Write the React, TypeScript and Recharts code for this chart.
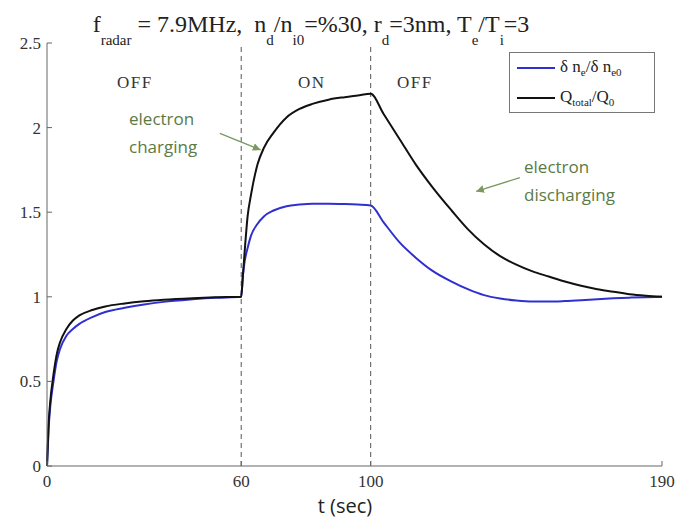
import {
  LineChart,
  Line,
  XAxis,
  YAxis,
  ReferenceLine,
  Legend,
} from 'recharts';

const tSec = [
  0, 0.5, 1, 2, 3, 4, 6, 8, 10, 14, 18, 24, 30, 36, 45, 52, 60,
  60.5, 61, 62, 63, 65, 67, 70, 74, 78, 82, 87, 92, 96, 100,
  104, 109, 114, 119, 125, 130, 135, 140, 145, 150, 155, 160, 165, 170, 175, 180, 185, 190,
];

// delta n_e / delta n_e0
const neRatio = [
  0, 0.22, 0.35, 0.5, 0.62, 0.69, 0.77, 0.81, 0.84, 0.88, 0.91, 0.935, 0.955, 0.97, 0.985, 0.994, 1.0,
  1.12, 1.2, 1.29, 1.36, 1.43, 1.475, 1.51, 1.535, 1.545, 1.55, 1.55, 1.548, 1.545, 1.54,
  1.44, 1.32, 1.23, 1.155, 1.09, 1.045, 1.01, 0.99, 0.978, 0.972, 0.972, 0.975, 0.98, 0.986, 0.991, 0.995, 0.998, 1.0,
];

// Q_total / Q_0
const qRatio = [
  0, 0.25, 0.38, 0.54, 0.66, 0.73, 0.81, 0.86, 0.89, 0.922, 0.943, 0.961, 0.974, 0.983, 0.992, 0.997, 1.0,
  1.12, 1.25, 1.48, 1.6, 1.78, 1.88, 1.97, 2.06, 2.11, 2.14, 2.165, 2.18, 2.19, 2.2,
  2.08, 1.93, 1.78, 1.65, 1.51, 1.4, 1.31, 1.24, 1.19, 1.15, 1.12, 1.09, 1.065, 1.045, 1.03, 1.015, 1.006, 1.0,
];

const xTicks = [0, 60, 100, 190];
const yTicks = [0, 0.5, 1, 1.5, 2, 2.5];
const switchTimes = [60, 100];

const chartData = tSec.map((t, i) => ({ t, ne: neRatio[i], q: qRatio[i] }));

const W = 681;
const H = 518;
const M = { top: 43, right: 19, bottom: 0, left: 0 };
const PLOT_BOTTOM = 466;
const PLOT_LEFT = 47;
const AXIS = '#666';
const SERIF = '"Liberation Serif", "Times New Roman", serif';
const SANS = '"Open Sans", "Liberation Sans", sans-serif';
const GREEN = '#5b7a45';
const BLUE = '#3030d0';

const BottomTick = ({ x, payload }: any) => (
  <g>
    <line x1={x} x2={x} y1={PLOT_BOTTOM} y2={PLOT_BOTTOM - 5} stroke={AXIS} />
    <text
      x={x}
      y={PLOT_BOTTOM + 21}
      textAnchor="middle"
      style={{ fontFamily: SERIF, fontSize: 17 }}
      fill="#333"
    >
      {payload.value}
    </text>
  </g>
);

const TopTick = ({ x, y }: any) => (
  <line x1={x} x2={x} y1={y} y2={y + 5} stroke={AXIS} />
);

const LeftTick = ({ y, payload }: any) => (
  <g>
    <line x1={PLOT_LEFT} x2={PLOT_LEFT + 5} y1={y} y2={y} stroke={AXIS} />
    <text
      x={PLOT_LEFT - 6}
      y={y}
      dy="0.35em"
      textAnchor="end"
      style={{ fontFamily: SERIF, fontSize: 17 }}
      fill="#333"
    >
      {payload.value}
    </text>
  </g>
);

const RightTick = ({ x, y }: any) => (
  <line x1={x} x2={x - 5} y1={y} y2={y} stroke={AXIS} />
);

const Arrow = (props: any) => (
  <line
    x1={props.x1}
    y1={props.y1}
    x2={props.x2}
    y2={props.y2}
    stroke="#7a9a60"
    strokeWidth={1.3}
    markerEnd="url(#greenHead)"
  />
);

const LegendBox = () => (
  <div
    style={{
      width: 144,
      height: 59,
      border: '1px solid #777',
      background: '#fff',
      fontFamily: SERIF,
      fontSize: 17,
      color: '#222',
    }}
  >
    <div style={{ display: 'flex', alignItems: 'center', height: 30, paddingLeft: 7 }}>
      <span style={{ width: 38, height: 2, background: BLUE, marginRight: 5 }} />
      <span>
        δ n<sub style={{ fontSize: 11 }}>e</sub>/δ n<sub style={{ fontSize: 11 }}>e0</sub>
      </span>
    </div>
    <div style={{ display: 'flex', alignItems: 'center', height: 30, paddingLeft: 7 }}>
      <span style={{ width: 38, height: 2, background: '#111', marginRight: 5 }} />
      <span>
        Q<sub style={{ fontSize: 11 }}>total</sub>/Q<sub style={{ fontSize: 11 }}>0</sub>
      </span>
    </div>
  </div>
);

const abs = (left: number, top: number, extra: any = {}) => ({
  position: 'absolute' as const,
  left,
  top,
  whiteSpace: 'nowrap' as const,
  lineHeight: 1,
  ...extra,
});

export default function App() {
  const sub = { fontSize: 15, verticalAlign: -13, lineHeight: 1 };
  return (
    <div style={{ position: 'absolute', left: 0, top: 0, width: W, height: H, background: '#fff' }}>
      <LineChart width={W} height={H} data={chartData} margin={M}>
        <defs>
          <marker id="greenHead" markerWidth="8" markerHeight="8" refX="6" refY="3" orient="auto">
            <path d="M0,0 L6,3 L0,6 z" fill="#7a9a60" />
          </marker>
        </defs>
        <XAxis
          dataKey="t"
          type="number"
          domain={[0, 190]}
          ticks={xTicks}
          height={52}
          tickSize={0}
          tickMargin={0}
          tickLine={false}
          tick={<BottomTick />}
          axisLine={{ stroke: AXIS }}
        />
        <XAxis
          xAxisId="top"
          orientation="top"
          dataKey="t"
          type="number"
          domain={[0, 190]}
          ticks={xTicks}
          height={0}
          tickSize={0}
          tickMargin={0}
          tickLine={false}
          tick={<TopTick />}
          axisLine={{ stroke: AXIS }}
        />
        <YAxis
          type="number"
          domain={[0, 2.5]}
          ticks={yTicks}
          width={47}
          tickSize={0}
          tickMargin={0}
          tickLine={false}
          tick={<LeftTick />}
          axisLine={{ stroke: AXIS }}
        />
        <YAxis
          yAxisId="right"
          orientation="right"
          type="number"
          domain={[0, 2.5]}
          ticks={yTicks}
          width={0}
          tickSize={0}
          tickMargin={0}
          tickLine={false}
          tick={<RightTick />}
          axisLine={{ stroke: AXIS }}
        />
        {switchTimes.map((s) => (
          <ReferenceLine key={s} x={s} stroke="#555" strokeDasharray="5 4" strokeWidth={1} />
        ))}
        <ReferenceLine
          segment={[{ x: 53.4, y: 1.966 }, { x: 66, y: 1.868 }]}
          shape={<Arrow />}
        />
        <ReferenceLine
          segment={[{ x: 146.1, y: 1.704 }, { x: 132.6, y: 1.623 }]}
          shape={<Arrow />}
        />
        <Line
          type="monotone"
          dataKey="ne"
          stroke={BLUE}
          strokeWidth={2}
          dot={false}
          isAnimationActive={false}
        />
        <Line
          type="monotone"
          dataKey="q"
          stroke="#111"
          strokeWidth={2}
          dot={false}
          isAnimationActive={false}
        />
        <Legend
          layout="vertical"
          align="center"
          verticalAlign="middle"
          content={<LegendBox />}
          wrapperStyle={{ left: 509, top: 52, width: 146, height: 61 }}
        />
      </LineChart>

      <div style={abs(0, 12, { width: 622, textAlign: 'center', fontFamily: SERIF, fontSize: 24, color: '#222' })}>
        f<span style={sub}>radar</span> = 7.9MHz,&nbsp; n<span style={sub}>d</span>/n<span style={sub}>i0</span>
        =%30, r<span style={sub}>d</span>=3nm, T<span style={sub}>e</span>/T<span style={sub}>i</span>=3
      </div>

      <div style={abs(117, 74, { fontFamily: SERIF, fontSize: 17, letterSpacing: 1.5, color: '#333' })}>OFF</div>
      <div style={abs(298, 74, { fontFamily: SERIF, fontSize: 17, letterSpacing: 1.5, color: '#333' })}>ON</div>
      <div style={abs(397, 74, { fontFamily: SERIF, fontSize: 17, letterSpacing: 1.5, color: '#333' })}>OFF</div>

      <div style={abs(129, 105, { fontFamily: SANS, fontSize: 17, color: GREEN, lineHeight: '28px' })}>
        electron<br />charging
      </div>
      <div style={abs(524, 153, { fontFamily: SANS, fontSize: 17, color: GREEN, lineHeight: '28px' })}>
        electron<br />discharging
      </div>

      <div style={abs(0, 496, { width: 690, textAlign: 'center', fontFamily: SANS, fontSize: 20, color: '#222' })}>
        t (sec)
      </div>
    </div>
  );
}
